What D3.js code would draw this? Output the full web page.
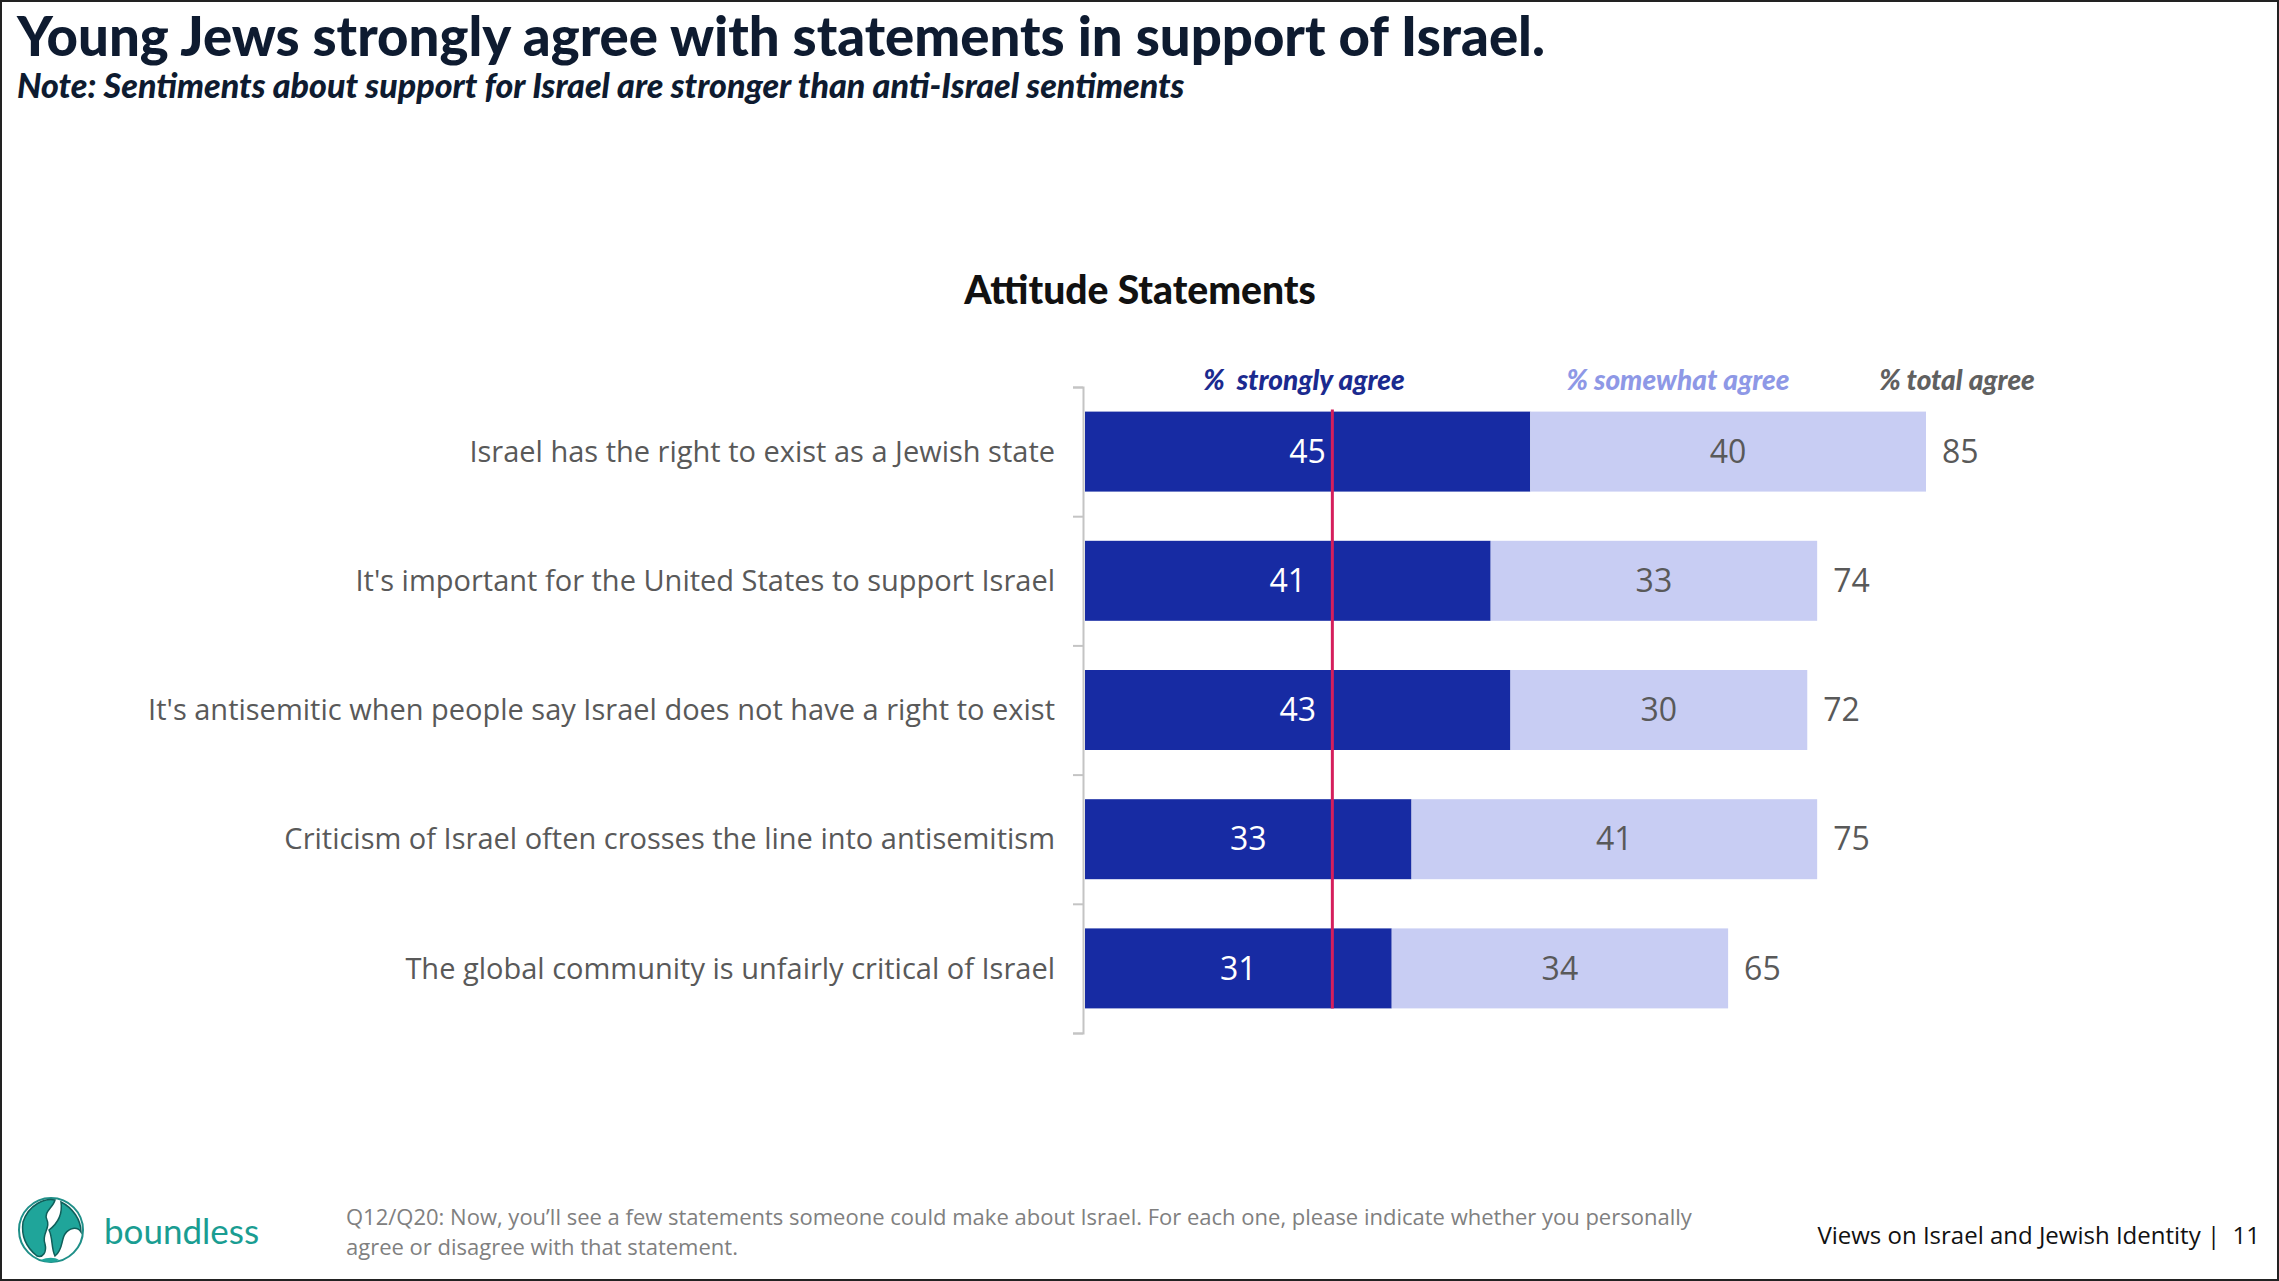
<!DOCTYPE html>
<html>
<head>
    <title>Attitude Statements</title>
    <script src="https://d3js.org/d3.v7.min.js"></script>
    <style>
        body, html {
            margin: 0;
            padding: 0;
            background: #ffffff;
            overflow: hidden;
        }
        text { font-family: "Open Sans", "Noto Sans", sans-serif; }
    </style>
</head>
<body>
<div id="chart"></div>
<script>
    // data
    const categories = [
        "Israel has the right to exist as a Jewish state",
        "It's important for the United States to support Israel",
        "It's antisemitic when people say Israel does not have a right to exist",
        "Criticism of Israel often crosses the line into antisemitism",
        "The global community is unfairly critical of Israel"
    ];
    const stronglyAgree = [45, 41, 43, 33, 31];
    const somewhatAgree = [40, 33, 30, 41, 34];
    const totalAgree = [85, 74, 72, 75, 65];
    const legendLabels = ["%  strongly agree", "% somewhat agree", "% total agree"];
    const referenceValue = 25;

    const width = 2279,
          height = 1281;

    const darkBlue = "#172ba3",
          lightBlue = "#c8cdf3",
          greyText = "#595959";

    const svg = d3.select("#chart")
                  .append("svg")
                  .attr("width", width)
                  .attr("height", height);

    // slide frame
    svg.append("rect")
       .attr("x", 1).attr("y", 1)
       .attr("width", width - 2).attr("height", height - 2)
       .attr("fill", "none")
       .attr("stroke", "#222")
       .attr("stroke-width", 2);

    // headline + note
    svg.append("text")
       .attr("x", 17).attr("y", 56)
       .style("font-family", "Lato, sans-serif")
       .style("font-weight", 900)
       .style("font-size", "54.5px")
       .attr("fill", "#0e1b30")
       .text("Young Jews strongly agree with statements in support of Israel.");

    svg.append("text")
       .attr("x", 17).attr("y", 98)
       .style("font-family", "Lato, sans-serif")
       .style("font-weight", 900)
       .style("font-style", "italic")
       .style("font-size", "34px")
       .attr("fill", "#0e1b30")
       .text("Note: Sentiments about support for Israel are stronger than anti-Israel sentiments");

    // chart title
    svg.append("text")
       .attr("x", 1140).attr("y", 304)
       .attr("text-anchor", "middle")
       .style("font-family", "Lato, sans-serif")
       .style("font-weight", 900)
       .style("font-size", "39px")
       .attr("fill", "#111")
       .text("Attitude Statements");

    // scales
    const x = d3.scaleLinear()
                .domain([0, 85])
                .range([1085, 1926]);

    const y = d3.scaleBand()
                .domain(categories)
                .range([387, 1033])
                .padding(0);

    const barH = 80;
    const barOff = (y.step() - barH) / 2;

    // axis with ticks on the band edges
    const yEdges = d3.scaleLinear()
                     .domain([0, categories.length])
                     .range([387, 1033]);
    const axis = svg.append("g")
                    .attr("transform", "translate(1083,0)")
                    .call(d3.axisLeft(yEdges).ticks(categories.length).tickSize(10).tickFormat(""));
    axis.select(".domain").attr("stroke", "#c4c4c4").attr("stroke-width", 2);
    axis.selectAll(".tick line").attr("stroke", "#c4c4c4").attr("stroke-width", 2);

    // category labels
    svg.selectAll(".cat")
       .data(categories)
       .enter().append("text")
       .attr("class", "cat")
       .attr("x", 1055)
       .attr("y", d => y(d) + y.step() / 2)
       .attr("dy", "0.35em")
       .attr("text-anchor", "end")
       .style("font-size", "29px")
       .attr("fill", greyText)
       .text(d => d);

    // stacked bars
    const rows = categories.map((c, i) => ({
        cat: c,
        strong: stronglyAgree[i],
        some: somewhatAgree[i],
        total: totalAgree[i]
    }));

    svg.selectAll(".strong")
       .data(rows)
       .enter().append("rect")
       .attr("x", x(0))
       .attr("y", d => y(d.cat) + barOff)
       .attr("width", d => x(d.strong) - x(0))
       .attr("height", barH)
       .attr("fill", darkBlue);

    svg.selectAll(".some")
       .data(rows)
       .enter().append("rect")
       .attr("x", d => x(d.strong))
       .attr("y", d => y(d.cat) + barOff)
       .attr("width", d => x(d.strong + d.some) - x(d.strong))
       .attr("height", barH)
       .attr("fill", lightBlue);

    // value labels
    svg.selectAll(".strongLbl")
       .data(rows)
       .enter().append("text")
       .attr("x", d => (x(0) + x(d.strong)) / 2)
       .attr("y", d => y(d.cat) + y.step() / 2)
       .attr("dy", "0.35em")
       .attr("text-anchor", "middle")
       .style("font-size", "32px")
       .attr("fill", "#ffffff")
       .text(d => d.strong);

    svg.selectAll(".someLbl")
       .data(rows)
       .enter().append("text")
       .attr("x", d => (x(d.strong) + x(d.strong + d.some)) / 2)
       .attr("y", d => y(d.cat) + y.step() / 2)
       .attr("dy", "0.35em")
       .attr("text-anchor", "middle")
       .style("font-size", "32px")
       .attr("fill", greyText)
       .text(d => d.some);

    svg.selectAll(".totalLbl")
       .data(rows)
       .enter().append("text")
       .attr("x", d => x(d.strong + d.some) + 16)
       .attr("y", d => y(d.cat) + y.step() / 2)
       .attr("dy", "0.35em")
       .style("font-size", "32px")
       .attr("fill", greyText)
       .text(d => d.total);

    // red reference line
    svg.append("line")
       .attr("x1", x(referenceValue)).attr("x2", x(referenceValue))
       .attr("y1", y(categories[0]) + barOff - 2)
       .attr("y2", y(categories[categories.length - 1]) + barOff + barH)
       .attr("stroke", "#d51f5c")
       .attr("stroke-width", 3);

    // legend headers
    const legendX = [1304, 1678, 1957];
    const legendColors = ["#1b2a8f", "#8e98e6", "#606060"];
    svg.selectAll(".legend")
       .data(legendLabels)
       .enter().append("text")
       .attr("x", (d, i) => legendX[i])
       .attr("y", 390)
       .attr("text-anchor", "middle")
       .style("font-family", "Lato, sans-serif")
       .style("font-weight", 900)
       .style("font-style", "italic")
       .style("font-size", "28px")
       .attr("fill", (d, i) => legendColors[i])
       .style("white-space", "pre")
       .text(d => d);

    // footer: logo
    const logo = svg.append("g").attr("transform", "translate(51,1230)");
    logo.append("circle").attr("r", 32).attr("fill", "#ffffff").attr("stroke", "#1f8f88").attr("stroke-width", 2);
    logo.append("path")
        .attr("d", "M-28,-8 C-22,-26 -6,-32 4,-30 C2,-22 -8,-18 -4,-10 C0,-2 -10,4 -6,14 C-4,22 -8,28 -14,26 C-24,18 -30,6 -28,-8 Z")
        .attr("fill", "#1fa59a").attr("stroke", "#0f5f5a").attr("stroke-width", 1.5);
    logo.append("path")
        .attr("d", "M10,-28 C22,-22 30,-10 30,2 C26,-4 18,-2 14,4 C10,10 12,20 4,26 C0,18 2,8 -2,0 C6,-6 12,-14 10,-28 Z")
        .attr("fill", "#1fa59a").attr("stroke", "#0f5f5a").attr("stroke-width", 1.5);
    logo.append("path")
        .attr("d", "M-10,30 C-4,27 4,27 8,30 C2,33 -4,33 -10,30 Z")
        .attr("fill", "#1fa59a");

    svg.append("text")
       .attr("x", 104).attr("y", 1244)
       .style("font-family", "Lato, sans-serif")
       .style("font-size", "35px")
       .attr("fill", "#1a9d92")
       .text("boundless");

    // footnote, two lines
    const footLines = [
        "Q12/Q20: Now, you’ll see a few statements someone could make about Israel. For each one, please indicate whether you personally",
        "agree or disagree with that statement."
    ];
    svg.selectAll(".foot")
       .data(footLines)
       .enter().append("text")
       .attr("class", "foot")
       .attr("x", 346)
       .attr("y", (d, i) => 1225 + i * 30)
       .style("font-size", "22px")
       .attr("fill", "#808080")
       .text(d => d);

    svg.append("text")
       .attr("x", 2260).attr("y", 1244)
       .attr("text-anchor", "end")
       .style("font-size", "24px")
       .attr("fill", "#111")
       .style("white-space", "pre")
       .text("Views on Israel and Jewish Identity |  11");
</script>
</body>
</html>
